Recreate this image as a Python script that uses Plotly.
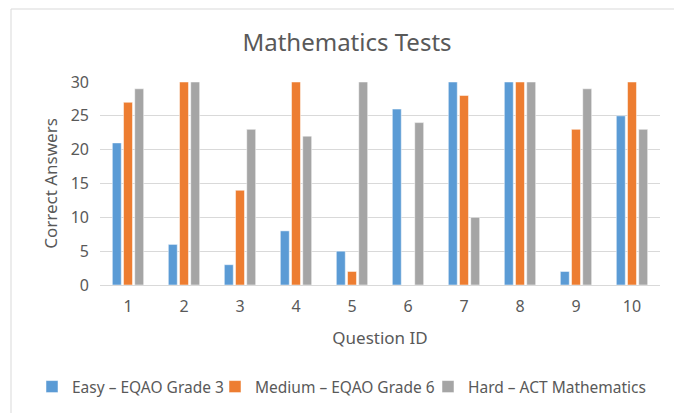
import plotly.graph_objects as go

questions = ["1", "2", "3", "4", "5", "6", "7", "8", "9", "10"]
easy = [21, 6, 3, 8, 5, 26, 30, 30, 2, 25]
medium = [27, 30, 14, 30, 2, 0, 28, 30, 23, 30]
hard = [29, 30, 23, 22, 30, 24, 10, 30, 29, 23]
series_names = ["Easy – EQAO Grade 3", "Medium – EQAO Grade 6", "Hard – ACT Mathematics"]
colors = ["#5B9BD5", "#ED7D31", "#A5A5A5"]
y_ticks = [0, 5, 10, 15, 20, 25, 30]

font_family = "Noto Sans, sans-serif"
text_color = "#595959"
OFF = 8  # page body margin

W, H = 682, 413
# plot area in screenshot pixels
px_left, px_right, px_top, px_bottom = 100, 660, 82, 285
L = px_left - OFF
R = W - (px_right - OFF)
T = px_top - OFF
B = H - (px_bottom - OFF)
pw, ph = W - L - R, H - T - B

def sx(px):  # screenshot x -> paper x
    return (px - OFF - L) / pw

def sy(py):  # screenshot y -> paper y
    return (H - B - (py - OFF)) / ph

legend_ids = ["legend", "legend2", "legend3"]
text_starts = [74, 257, 470]

fig = go.Figure()
for name, vals, col, lid in zip(series_names, [easy, medium, hard], colors, legend_ids):
    fig.add_trace(go.Bar(
        x=questions, y=vals, name=name, legend=lid, showlegend=True,
        marker=dict(color=col, line=dict(color="white", width=0.5)),
    ))

fig.add_shape(type="rect", xref="paper", yref="paper",
              x0=sx(11), x1=sx(680), y0=sy(440), y1=sy(9),
              line=dict(color="#D9D9D9", width=1), fillcolor="rgba(0,0,0,0)", layer="below")

legend_common = dict(orientation="h", xanchor="left", yanchor="middle",
                     font=dict(size=15.5, family=font_family, color=text_color),
                     bgcolor="rgba(0,0,0,0)", itemwidth=30, visible=True)

layout_legends = {}
for lid, ts in zip(legend_ids, text_starts):
    layout_legends[lid] = dict(legend_common, x=sx(ts - 42), y=sy(387))

fig.update_layout(
    width=W, height=H,
    margin=dict(l=L, r=R, t=T, b=B),
    paper_bgcolor="white", plot_bgcolor="white",
    showlegend=True,
    barmode="group", bargap=0.4, bargroupgap=0.2,
    font=dict(family=font_family, color=text_color, size=16),
    title=dict(text="Mathematics Tests", x=(347 - OFF) / W, xref="container", xanchor="center",
               y=1 - (43 - OFF) / H, yref="container", yanchor="middle",
               font=dict(size=24, color=text_color, family=font_family)),
    xaxis=dict(title=dict(text="Question ID", font=dict(size=17), standoff=15),
               showgrid=False, showline=True, linecolor="#D9D9D9", linewidth=1,
               ticks="", tickfont=dict(size=16), ticklabelstandoff=7),
    yaxis=dict(title=dict(text="Correct Answers", font=dict(size=17), standoff=8),
               range=[0, 30], tickvals=y_ticks, showgrid=True, gridcolor="#D9D9D9",
               gridwidth=1, zeroline=False, showline=False, ticks="", tickfont=dict(size=16),
               ticklabelstandoff=10),
    **layout_legends,
)

fig.write_html("out.html")
